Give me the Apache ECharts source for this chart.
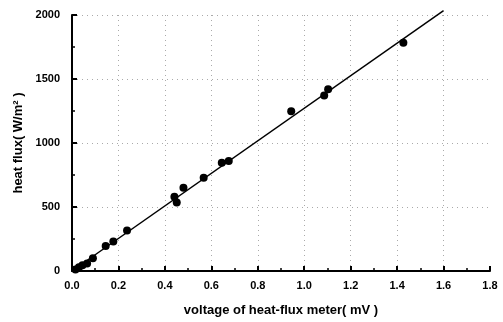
<!DOCTYPE html>
<html>
<head>
<meta charset="utf-8">
<script src="https://cdn.jsdelivr.net/npm/echarts@6/dist/echarts.min.js"></script>
<style>
  html, body { margin: 0; padding: 0; background: #fff; }
  #chart { width: 503px; height: 322px; }
</style>
</head>
<body>
<div id="chart"></div>
<script>
// measured points: voltage (mV) vs heat flux (W/m2)
var voltage = [0.015, 0.03, 0.045, 0.065, 0.09, 0.145, 0.178, 0.237, 0.441, 0.451, 0.48, 0.567, 0.645, 0.675, 0.944, 1.086, 1.103, 1.427];
var heatFlux = [12, 30, 45, 58, 100, 195, 230, 316, 580, 535, 650, 728, 845, 860, 1248, 1372, 1419, 1783];
// fitted line end points
var fitX = [0.0, 1.6];
var fitY = [0, 2035];

var xTicks = ['0.0', '0.2', '0.4', '0.6', '0.8', '1.0', '1.2', '1.4', '1.6', '1.8'];
var yTicks = ['0', '500', '1000', '1500', '2000'];

var chart = echarts.init(document.getElementById('chart'));

var pts = voltage.map(function (v, i) { return [v, heatFlux[i]]; });
var fit = fitX.map(function (v, i) { return [v, fitY[i]]; });

var font = 'Liberation Sans, Arial, sans-serif';

var option = {
    backgroundColor: '#fff',
    animation: false,
    grid: { left: 72, right: 13, top: 15, bottom: 49 },
    xAxis: {
        type: 'value',
        min: 0,
        max: 1.8,
        interval: 0.2,
        name: 'voltage of heat-flux meter( mV )',
        nameLocation: 'middle',
        nameGap: 33,
        nameTextStyle: { color: '#000', fontFamily: font, fontWeight: 'bold', fontSize: 13 },
        axisLine: { lineStyle: { color: '#000', width: 2 } },
        axisTick: { inside: true, length: 5, lineStyle: { color: '#000', width: 2 } },
        minorTick: { show: true, splitNumber: 2, length: 3, lineStyle: { color: '#000', width: 1.5 } },
        axisLabel: {
            color: '#000', fontFamily: font, fontWeight: 'bold', fontSize: 11, margin: 9,
            formatter: function (v) { return xTicks[Math.round(v / 0.2)]; }
        },
        splitLine: { show: true, showMinLine: false, showMaxLine: false, lineStyle: { color: '#aaa', type: [1, 4], width: 1 } }
    },
    yAxis: {
        type: 'value',
        min: 0,
        max: 2000,
        interval: 500,
        name: 'heat flux( W/m² )',
        nameLocation: 'middle',
        nameGap: 44,
        nameTextStyle: { color: '#000', fontFamily: font, fontWeight: 'bold', fontSize: 13 },
        axisLine: { show: true, lineStyle: { color: '#000', width: 2 } },
        axisTick: { show: true, inside: true, length: 5, lineStyle: { color: '#000', width: 2 } },
        minorTick: { show: true, splitNumber: 2, length: 3, lineStyle: { color: '#000', width: 1.5 } },
        axisLabel: {
            color: '#000', fontFamily: font, fontWeight: 'bold', fontSize: 11, margin: 12,
            formatter: function (v) { return yTicks[Math.round(v / 500)]; }
        },
        splitLine: { show: true, showMinLine: false, lineStyle: { color: '#aaa', type: [1, 4], width: 1 } }
    },
    series: [
        {
            type: 'line',
            data: fit,
            showSymbol: false,
            clip: false,
            lineStyle: { color: '#000', width: 1.5 },
            z: 3
        },
        {
            type: 'scatter',
            data: pts,
            symbol: 'circle',
            symbolSize: 8,
            itemStyle: { color: '#000', opacity: 1 },
            z: 4
        }
    ]
};

chart.setOption(option);
</script>
</body>
</html>
